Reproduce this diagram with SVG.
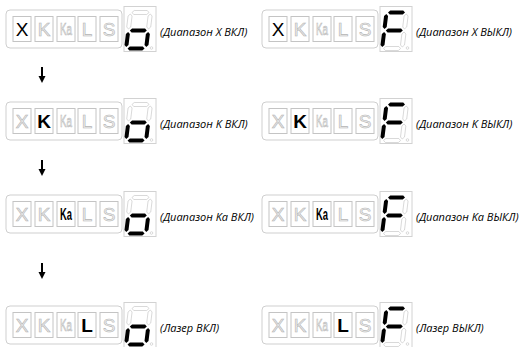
<svg xmlns="http://www.w3.org/2000/svg" xmlns:xlink="http://www.w3.org/1999/xlink" width="525" height="347" viewBox="0 0 525 347">
<style>
.frame{fill:#fff;stroke:#cfcfcf;stroke-width:1}
.box{fill:#fff;stroke:#c4c4c4;stroke-width:1}
.dbox{fill:#fff;stroke:#d2d2d2;stroke-width:1}
.lt{font-family:"Liberation Sans",Arial,sans-serif;font-size:19px;text-anchor:middle}
.ka{font-size:16px}
.off{fill:#efefef;stroke:#b4b4b4;stroke-width:0.6}
.on{fill:#000}
.b{font-weight:bold}
.seg-on{fill:#000}
.seg-off{fill:#fff;stroke:#c2c2c2;stroke-width:0.6}
.lbl{font-family:"Open Sans","DejaVu Sans",sans-serif;font-style:italic;font-size:11px;fill:#000}
.dp{fill:#fff;stroke:#c2c2c2;stroke-width:0.6}
</style>
<defs>
<polygon id="sh" points="1.5,0 3.5,-2 16.5,-2 18.5,0 16.5,2 3.5,2"/>
<polygon id="sv" points="0,1.5 2,3.5 2,14.5 0,16.5 -2,14.5 -2,3.5"/>
<g id="panel">
<rect class="frame" x="6" y="0" width="116" height="38" rx="4"/>
<rect class="box" x="13" y="6.5" width="18" height="25"/>
<rect class="box" x="35" y="6.5" width="18" height="25"/>
<rect class="box" x="57" y="6.5" width="18" height="25"/>
<rect class="box" x="78" y="6.5" width="18" height="25"/>
<rect class="box" x="100" y="6.5" width="18" height="25"/>
<rect class="dbox" x="124" y="-3.5" width="32" height="45"/>
<circle class="dp" cx="151.5" cy="38" r="1.3"/>
</g>
<g id="dig-o" transform="translate(130.5,2.5) skewX(-7)">
<use xlink:href="#sh" class="seg-off"/>
<use xlink:href="#sv" x="20" class="seg-off"/>
<use xlink:href="#sv" class="seg-off"/>
<use xlink:href="#sv" x="20" y="18" class="seg-on"/>
<use xlink:href="#sh" y="36" class="seg-on"/>
<use xlink:href="#sv" y="18" class="seg-on"/>
<use xlink:href="#sh" y="18" class="seg-on"/>
</g>
<g id="dig-F" transform="translate(130.5,2.5) skewX(-7)">
<use xlink:href="#sv" x="20" class="seg-off"/>
<use xlink:href="#sv" x="20" y="18" class="seg-off"/>
<use xlink:href="#sh" y="36" class="seg-off"/>
<use xlink:href="#sh" class="seg-on"/>
<use xlink:href="#sv" class="seg-on"/>
<use xlink:href="#sv" y="18" class="seg-on"/>
<use xlink:href="#sh" y="18" class="seg-on"/>
</g>
<g id="arrow">
<line x1="0" y1="0" x2="0" y2="10" stroke="#000" stroke-width="2"/>
<polygon points="-3.5,9 3.5,9 0,16" fill="#000"/>
</g>
</defs>

<g id="connectors">
<use xlink:href="#arrow" x="42" y="67"/>
<use xlink:href="#arrow" x="42" y="160"/>
<use xlink:href="#arrow" x="42" y="263"/>
</g>

<!-- Row 1 -->
<g id="x-on" transform="translate(0,10)">
<use xlink:href="#panel"/>
<text class="lt on" x="22" y="26">X</text>
<text class="lt off" x="44" y="26">K</text>
<text class="lt ka off" x="66" y="25" textLength="12" lengthAdjust="spacingAndGlyphs">Ka</text>
<text class="lt off" x="87" y="26">L</text>
<text class="lt off" x="109" y="26">S</text>
<use xlink:href="#dig-o"/>
<text class="lbl" x="160" y="26">(Диапазон X ВКЛ)</text>
</g>
<g id="x-off" transform="translate(256,10)">
<use xlink:href="#panel"/>
<text class="lt on" x="22" y="26">X</text>
<text class="lt off" x="44" y="26">K</text>
<text class="lt ka off" x="66" y="25" textLength="12" lengthAdjust="spacingAndGlyphs">Ka</text>
<text class="lt off" x="87" y="26">L</text>
<text class="lt off" x="109" y="26">S</text>
<use xlink:href="#dig-F"/>
<text class="lbl" x="160" y="26">(Диапазон X ВЫКЛ)</text>
</g>

<!-- Row 2 -->
<g id="k-on" transform="translate(0,102)">
<use xlink:href="#panel"/>
<text class="lt off" x="22" y="26">X</text>
<text class="lt on b" x="44" y="26">K</text>
<text class="lt ka off" x="66" y="25" textLength="12" lengthAdjust="spacingAndGlyphs">Ka</text>
<text class="lt off" x="87" y="26">L</text>
<text class="lt off" x="109" y="26">S</text>
<use xlink:href="#dig-o"/>
<text class="lbl" x="160" y="26">(Диапазон K ВКЛ)</text>
</g>
<g id="k-off" transform="translate(256,102)">
<use xlink:href="#panel"/>
<text class="lt off" x="22" y="26">X</text>
<text class="lt on b" x="44" y="26">K</text>
<text class="lt ka off" x="66" y="25" textLength="12" lengthAdjust="spacingAndGlyphs">Ka</text>
<text class="lt off" x="87" y="26">L</text>
<text class="lt off" x="109" y="26">S</text>
<use xlink:href="#dig-F"/>
<text class="lbl" x="160" y="26">(Диапазон K ВЫКЛ)</text>
</g>

<!-- Row 3 -->
<g id="ka-on" transform="translate(0,195)">
<use xlink:href="#panel"/>
<text class="lt off" x="22" y="26">X</text>
<text class="lt off" x="44" y="26">K</text>
<text class="lt ka on b" x="66" y="25" textLength="12" lengthAdjust="spacingAndGlyphs">Ka</text>
<text class="lt off" x="87" y="26">L</text>
<text class="lt off" x="109" y="26">S</text>
<use xlink:href="#dig-o"/>
<text class="lbl" x="160" y="26">(Диапазон Ka ВКЛ)</text>
</g>
<g id="ka-off" transform="translate(256,195)">
<use xlink:href="#panel"/>
<text class="lt off" x="22" y="26">X</text>
<text class="lt off" x="44" y="26">K</text>
<text class="lt ka on b" x="66" y="25" textLength="12" lengthAdjust="spacingAndGlyphs">Ka</text>
<text class="lt off" x="87" y="26">L</text>
<text class="lt off" x="109" y="26">S</text>
<use xlink:href="#dig-F"/>
<text class="lbl" x="160" y="26">(Диапазон Ka ВЫКЛ)</text>
</g>

<!-- Row 4 -->
<g id="l-on" transform="translate(0,306)">
<use xlink:href="#panel"/>
<text class="lt off" x="22" y="26">X</text>
<text class="lt off" x="44" y="26">K</text>
<text class="lt ka off" x="66" y="25" textLength="12" lengthAdjust="spacingAndGlyphs">Ka</text>
<text class="lt on b" x="87" y="26">L</text>
<text class="lt off" x="109" y="26">S</text>
<use xlink:href="#dig-o"/>
<text class="lbl" x="160" y="26">(Лазер ВКЛ)</text>
</g>
<g id="l-off" transform="translate(256,306)">
<use xlink:href="#panel"/>
<text class="lt off" x="22" y="26">X</text>
<text class="lt off" x="44" y="26">K</text>
<text class="lt ka off" x="66" y="25" textLength="12" lengthAdjust="spacingAndGlyphs">Ka</text>
<text class="lt on b" x="87" y="26">L</text>
<text class="lt off" x="109" y="26">S</text>
<use xlink:href="#dig-F"/>
<text class="lbl" x="160" y="26">(Лазер ВЫКЛ)</text>
</g>
</svg>
